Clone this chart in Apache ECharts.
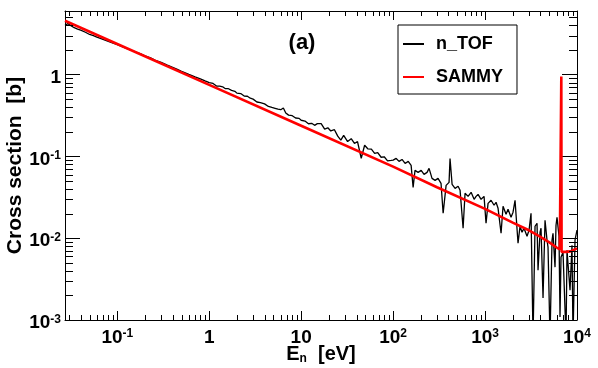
<!DOCTYPE html>
<html>
<head>
<meta charset="utf-8">
<script src="https://cdn.jsdelivr.net/npm/echarts@6/dist/echarts.min.js"></script>
<style>
  html, body { margin: 0; padding: 0; background: #fff; }
  #chart { width: 598px; height: 368px; }
</style>
</head>
<body>
<div id="chart"></div>
<script>
// Neutron energy [eV] and measured cross section [b], n_TOF histogram
var ntofE = [
  0.027, 0.029, 0.031, 0.034, 0.037, 0.04, 0.045, 0.05, 0.055, 0.06, 0.07, 0.08, 0.09,
  0.1, 0.12, 0.14, 0.16, 0.18, 0.2, 0.23, 0.26, 0.3, 0.35, 0.4, 0.45, 0.5, 0.6, 0.7, 0.8, 0.9,
  1.0, 1.1, 1.2, 1.3, 1.4, 1.5, 1.6, 1.75, 1.9, 2.0, 2.2, 2.4, 2.6, 2.8, 3.0, 3.3, 3.6, 4.0, 4.4, 4.8,
  5.2, 5.6, 6.0, 6.4, 6.8, 7.3, 8.0, 8.7, 9.5, 10, 11, 12, 13, 14, 15, 16.5, 18, 19.5, 21, 23,
  25, 27, 29, 32, 35, 38, 41, 45, 49, 53, 58, 63, 68, 74, 80, 87, 95, 100,
  108, 116, 125, 135, 146, 157, 165, 173, 187, 202, 217, 234, 246, 265, 286, 308, 332, 350, 377, 406,
  416, 438, 472, 509, 535, 577, 606, 654, 705, 760, 799, 839, 905, 975, 1025, 1078, 1162, 1253, 1317, 1385,
  1493, 1569, 1692, 1778, 1917, 2015, 2119, 2284, 2401, 2525, 2654, 2861, 3008, 3162, 3325, 3496, 3675, 3768, 3962, 4062,
  4271, 4490, 4721, 4840, 5088, 5350, 5484, 5767, 5912, 6062, 6373, 6535, 6700, 7045, 7223, 7595, 7786, 7984, 8394, 8825,
  9048, 9513, 10000
];
var ntofXS = [
  4.0, 4.2, 4.0, 3.75, 3.6, 3.5, 3.3, 3.1, 3.0, 2.88, 2.7, 2.55, 2.42,
  2.32, 2.14, 2.0, 1.88, 1.79, 1.70, 1.60, 1.50, 1.41, 1.31, 1.23, 1.16, 1.10, 1.01, 0.94, 0.89, 0.84,
  0.80, 0.78, 0.726, 0.724, 0.71, 0.673, 0.676, 0.641, 0.626, 0.594, 0.587, 0.547, 0.544, 0.515, 0.502, 0.463, 0.454, 0.439, 0.408, 0.397,
  0.388, 0.380, 0.373, 0.391, 0.340, 0.320, 0.315, 0.295, 0.292, 0.277, 0.271, 0.251, 0.254, 0.240, 0.252, 0.252, 0.216, 0.224, 0.205, 0.212,
  0.177, 0.158, 0.181, 0.152, 0.165, 0.144, 0.152, 0.095, 0.137, 0.124, 0.123, 0.109, 0.111, 0.0977, 0.099, 0.0884, 0.0893, 0.090,
  0.0945, 0.0869, 0.0919, 0.0821, 0.0869, 0.0777, 0.0419, 0.0675, 0.0638, 0.0675, 0.0603, 0.0638, 0.0714, 0.0539, 0.0510, 0.0539, 0.0469, 0.0202, 0.0443, 0.0482,
  0.0945, 0.0456, 0.0407, 0.0431, 0.0385, 0.01324, 0.0354, 0.0325, 0.0364, 0.0299, 0.0325, 0.0344, 0.0299, 0.0325, 0.01524, 0.0267, 0.0291, 0.0253, 0.0275, 0.0232,
  0.0115, 0.0246, 0.0196, 0.0226, 0.0180, 0.0208, 0.0291, 0.00869, 0.0140, 0.01183, 0.01324, 0.01058, 0.01252, 0.0202, 0.0006, 0.0140, 0.01524, 0.00407, 0.01183, 0.01324,
  0.00186, 0.01658, 0.00945, 0.00777, 0.0006, 0.00945, 0.0115, 0.00443, 0.0144, 0.0180, 0.01058, 0.00109, 0.00587, 0.00675, 0.00307, 0.0006, 0.00714, 0.00675, 0.00232, 0.00821,
  0.0006, 0.00945, 0.01252
];
// SAMMY fit
var sammyE  = [0.027, 0.1, 1, 10, 100, 300, 1000, 2000, 3000, 4000, 5000, 6000, 6500, 6700, 6750, 6800, 7500, 8500, 10000];
var sammyXS = [4.56, 2.37, 0.75, 0.237, 0.075, 0.042, 0.0228, 0.0155, 0.0125, 0.0104, 0.0089, 0.0077, 0.0073, 0.0070, 0.95, 0.0068, 0.0068, 0.0069, 0.0075];

var xRange = [0.027, 10000];
var yRange = [0.001, 6];
var minorMult = [2, 3, 4, 5, 6, 7, 8, 9];
var xDecades = [0.01, 0.1, 1, 10, 100, 1000];
var yDecades = [0.001, 0.01, 0.1, 1];

var FONT = "Liberation Sans, Arial, sans-serif";

function minorTicks(decades, range) {
  var out = [];
  decades.forEach(function (d) {
    minorMult.forEach(function (m) {
      var v = d * m;
      if (v > range[0] && v < range[1]) out.push(v);
    });
  });
  return out;
}

function powLabel(v) {
  var lg = Math.log10(v), e = Math.round(lg);
  if (Math.abs(lg - e) > 1e-6) return "";
  if (e === 0) return "{b|1}";
  if (e === 1) return "{b|10}";
  return "{b|10}{s|" + e + "}";
}
var labelRich = {
  b: { fontSize: 19, fontWeight: "bold", fontFamily: FONT, color: "#000" },
  s: { fontSize: 12, fontWeight: "bold", fontFamily: FONT, color: "#000", verticalAlign: "top", padding: [0, 0, 6, 0] }
};

function pairs(xs, ys) { return xs.map(function (x, i) { return [x, ys[i]]; }); }

var chart = echarts.init(document.getElementById("chart"), null, { renderer: "canvas" });

function axisBase(pos, len, showLabel) {
  return {
    type: "log", logBase: 10, position: pos,
    axisLine: { show: true, onZero: false, lineStyle: { color: "#000", width: 1 } },
    axisTick: { show: true, inside: true, length: len, lineStyle: { color: "#000", width: 1 } },
    splitLine: { show: false },
    minorTick: { show: false },
    splitNumber: 6,
    nameMoveOverlap: false,
    axisLabel: showLabel ? { formatter: powLabel, rich: labelRich } : { show: false }
  };
}

var xBottom = axisBase("bottom", 9, true);
xBottom.min = xRange[0]; xBottom.max = xRange[1];
xBottom.axisLabel.margin = 8;
xBottom.name = "{a|E}{n|n}{a|  [eV]}";
xBottom.nameLocation = "middle";
xBottom.nameGap = 23;
xBottom.nameTextStyle = {
  rich: {
    a: { fontSize: 20, fontWeight: "bold", fontFamily: FONT, color: "#000" },
    n: { fontSize: 12, fontWeight: "bold", fontFamily: FONT, color: "#000", verticalAlign: "bottom", padding: [10, 0, 0, 0] }
  }
};
var xTop = axisBase("top", 9, false);
xTop.min = xRange[0]; xTop.max = xRange[1];

var yLeft = axisBase("left", 15, true);
yLeft.min = yRange[0]; yLeft.max = yRange[1];
yLeft.axisLabel.margin = 4;
yLeft.axisLabel.padding = [6, 0, 0, 0];
yLeft.name = "Cross section  [b]";
yLeft.nameLocation = "middle";
yLeft.nameGap = 39;
yLeft.nameTextStyle = { fontSize: 21, fontWeight: "bold", fontFamily: FONT, color: "#000" };
var yRight = axisBase("right", 15, false);
yRight.min = yRange[0]; yRight.max = yRange[1];

function minorRender(isX, len) {
  return function (params, api) {
    var cs = params.coordSys;
    var p = api.coord([api.value(0), api.value(1)]);
    var st = { stroke: "#000", lineWidth: 1 };
    if (isX) {
      var x = Math.round(p[0]) + 0.5, b = cs.y + cs.height, t = cs.y;
      return { type: "group", children: [
        { type: "line", shape: { x1: x, y1: b, x2: x, y2: b - len }, style: st },
        { type: "line", shape: { x1: x, y1: t, x2: x, y2: t + len }, style: st }
      ] };
    }
    var y = Math.round(p[1]) + 0.5, l = cs.x, r = cs.x + cs.width;
    return { type: "group", children: [
      { type: "line", shape: { x1: l, y1: y, x2: l + len, y2: y }, style: st },
      { type: "line", shape: { x1: r, y1: y, x2: r - len, y2: y }, style: st }
    ] };
  };
}

chart.setOption({
  animation: false,
  backgroundColor: "#fff",
  grid: { left: 65, right: 21, top: 11, bottom: 48, containLabel: false, outerBoundsMode: "none" },
  xAxis: [xBottom, xTop],
  yAxis: [yLeft, yRight],
  legend: {
    data: [{ name: "n_TOF", icon: "rect" }, { name: "SAMMY", icon: "rect" }],
    orient: "vertical",
    left: 398, top: 25,
    width: 123,
    padding: [10, 14, 8, 5],
    itemGap: 15,
    itemWidth: 21, itemHeight: 2,
    backgroundColor: "#fff",
    borderColor: "#000", borderWidth: 1, borderRadius: 0,
    textStyle: { fontSize: 18, fontWeight: "bold", fontFamily: FONT, color: "#000", padding: [0, 0, 0, 7] }
  },
  graphic: [
    { type: "text", x: 302, y: 43, style: { text: "(a)", font: "bold 22px " + FONT, fill: "#000", align: "center", verticalAlign: "middle" } }
  ],
  series: [
    {
      name: "n_TOF", type: "line", xAxisIndex: 0, yAxisIndex: 0,
      data: pairs(ntofE, ntofXS), symbol: "none",
      lineStyle: { color: "#000", width: 1.3 }, itemStyle: { color: "#000" }, z: 2
    },
    {
      name: "SAMMY", type: "line", xAxisIndex: 0, yAxisIndex: 0,
      data: pairs(sammyE, sammyXS), symbol: "none",
      lineStyle: { color: "#ff0000", width: 2.6 }, itemStyle: { color: "#ff0000" }, z: 3
    },
    {
      type: "custom", xAxisIndex: 0, yAxisIndex: 0, silent: true, clip: false, z: 4,
      renderItem: minorRender(true, 5),
      data: minorTicks(xDecades, xRange).map(function (v) { return [v, yRange[0]]; })
    },
    {
      type: "custom", xAxisIndex: 0, yAxisIndex: 0, silent: true, clip: false, z: 4,
      renderItem: minorRender(false, 8),
      data: minorTicks(yDecades, yRange).map(function (v) { return [xRange[0], v]; })
    }
  ]
});
</script>
</body>
</html>
